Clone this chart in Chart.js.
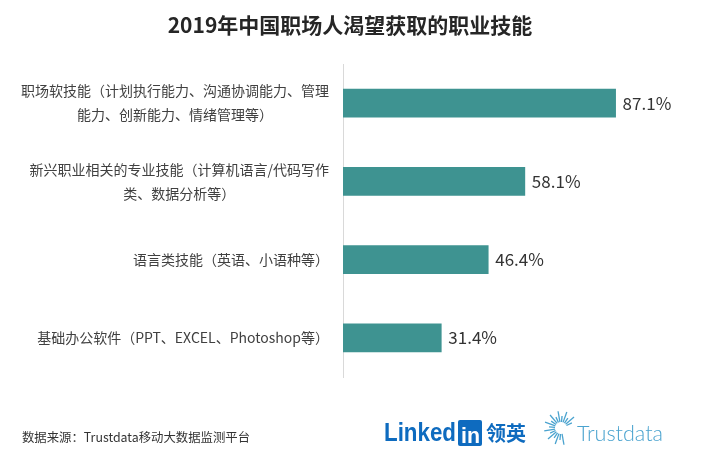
<!DOCTYPE html>
<html>
<head>
<meta charset="utf-8">
<script src="https://cdn.jsdelivr.net/npm/chart.js@4.4.1/dist/chart.umd.min.js"></script>
<style>
  html, body { margin: 0; padding: 0; background: #fff; }
  #wrap { width: 722px; height: 458px; position: relative; }
</style>
</head>
<body>
<div id="wrap"><canvas id="skills"></canvas></div>
<script>
// 2019年中国职场人渴望获取的职业技能 — horizontal bars

const title = '2019年中国职场人渴望获取的职业技能';
const categories = [
  ['职场软技能（计划执行能力、沟通协调能力、管理', '能力、创新能力、情绪管理等）'],
  ['新兴职业相关的专业技能（计算机语言/代码写作', '类、数据分析等）'],
  ['语言类技能（英语、小语种等）'],
  ['基础办公软件（PPT、EXCEL、Photoshop等）'],
];
const values = [87.1, 58.1, 46.4, 31.4];
const source = '数据来源：Trustdata移动大数据监测平台';

const CJK = '"Microsoft YaHei", "Noto Sans CJK SC", "Noto Sans", sans-serif';

const decor = {
  id: 'decor',
  afterDraw(chart) {
    const { ctx, chartArea } = chart;
    const yScale = chart.scales.y;
    ctx.save();

    // title
    ctx.fillStyle = '#262626';
    ctx.font = 'bold 21px ' + CJK;
    ctx.textAlign = 'center';
    ctx.textBaseline = 'middle';
    ctx.fillText(title, 350, 25);

    // category labels, block right-aligned, lines centred inside the block
    ctx.fillStyle = '#404040';
    ctx.font = '14px ' + CJK;
    categories.forEach((lines, i) => {
      const yc = yScale.getPixelForValue(i);
      const w = Math.max(...lines.map(l => ctx.measureText(l).width));
      const cx = chartArea.left - 14 - w / 2;
      lines.forEach((l, j) => {
        ctx.fillText(l, cx, yc + (j - (lines.length - 1) / 2) * 24);
      });
    });

    // value labels
    ctx.fillStyle = '#333';
    ctx.font = '17px ' + CJK;
    ctx.textAlign = 'left';
    chart.getDatasetMeta(0).data.forEach((bar, i) => {
      ctx.fillText(values[i].toFixed(1) + '%', bar.x + 7, bar.y);
    });

    // source
    ctx.fillStyle = '#333';
    ctx.font = '12.5px ' + CJK;
    ctx.fillText(source, 22, 437, 228);

    // LinkedIn 领英
    const blue = '#0e6bbf';
    ctx.fillStyle = blue;
    ctx.textBaseline = 'alphabetic';
    ctx.font = 'bold 25px "Liberation Sans", Arial, sans-serif';
    ctx.fillText('Linked', 384, 441, 72);
    ctx.beginPath();
    ctx.roundRect(458, 420, 24, 26, 2);
    ctx.fill();
    ctx.fillStyle = '#fff';
    ctx.font = 'bold 22px "Liberation Sans", Arial, sans-serif';
    ctx.fillText('in', 461, 443, 19);
    ctx.fillStyle = blue;
    ctx.font = 'bold 20px ' + CJK;
    ctx.textBaseline = 'middle';
    ctx.fillText('领英', 486, 433);

    // Trustdata sunburst
    const tc = '#4aa3cf';
    ctx.strokeStyle = tc;
    ctx.lineWidth = 1.3;
    const cx = 561, cy = 428;
    let k = 0;
    for (let a = 80; a <= 335; a += 15) {
      const rad = a * Math.PI / 180;
      const r2 = k % 2 ? 12 : 17;
      ctx.beginPath();
      ctx.moveTo(cx + Math.cos(rad) * 6, cy + Math.sin(rad) * 6);
      ctx.lineTo(cx + Math.cos(rad) * r2, cy + Math.sin(rad) * r2);
      ctx.stroke();
      k++;
    }
    ctx.fillStyle = tc;
    ctx.font = '300 22px Lato, "Open Sans", sans-serif';
    ctx.textBaseline = 'alphabetic';
    ctx.fillText('Trustdata', 577, 441, 86);

    ctx.restore();
  }
};

new Chart(document.getElementById('skills').getContext('2d'), {
  type: 'bar',
  data: {
    labels: categories,
    datasets: [{
      data: values,
      backgroundColor: '#3e9391',
      barThickness: 28,
      borderWidth: 0,
    }],
  },
  options: {
    indexAxis: 'y',
    responsive: true,
    maintainAspectRatio: false,
    animation: false,
    layout: { padding: { left: 343, right: 66, top: 64, bottom: 81 } },
    plugins: { legend: { display: false }, tooltip: { enabled: false } },
    scales: {
      x: { display: false, min: 0, max: 100 },
      y: {
        ticks: { display: false },
        grid: { display: false, drawTicks: false },
        border: { display: true, color: '#d9d9d9', width: 1 },
      },
    },
  },
  plugins: [decor],
});
</script>
</body>
</html>
